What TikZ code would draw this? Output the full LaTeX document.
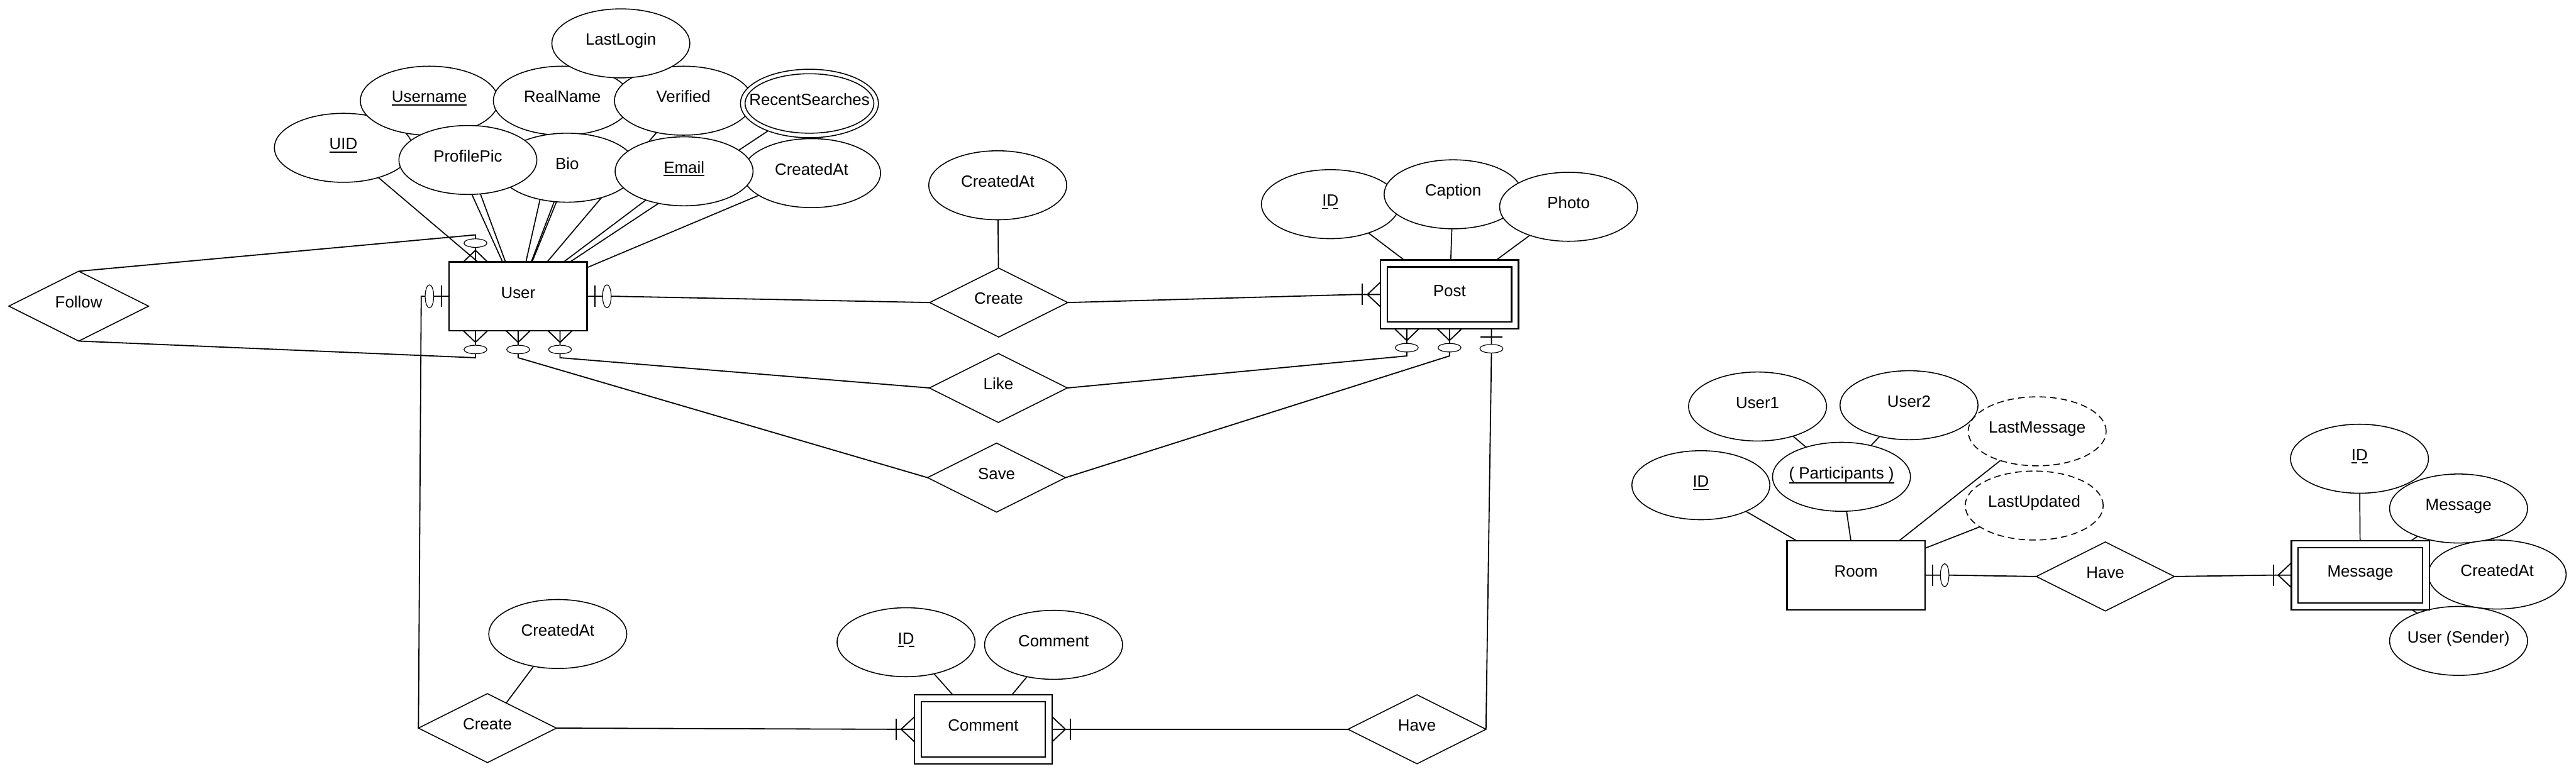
\documentclass[tikz,border=0pt]{standalone}
\usepackage{fontspec}
\setmainfont{Liberation Sans}
\usetikzlibrary{shapes.geometric,calc,backgrounds}
\newcommand\ctext[1]{\makebox[0pt]{#1}}
\newcommand\solidul[1]{\setbox0\hbox{#1}\rlap{\usebox0}\rule[-0.19em]{\wd0}{0.07em}}
\newcommand\partul[1]{\setbox0\hbox{#1}\rlap{\usebox0}\rule[-0.29em]{\wd0}{0.07em}}
\newcommand\dashul[1]{\setbox0\hbox{#1}\rlap{\usebox0}\rlap{\rule[-0.19em]{0.36\wd0}{0.07em}}\kern0.66\wd0\rule[-0.19em]{0.34\wd0}{0.07em}}
\tikzset{
  erbase/.style={draw, fill=white, inner sep=0pt, outer sep=0pt, text height=0.8em, text depth=0.2em},
  attr/.style={erbase, ellipse, line width=0.6mm, minimum width=84mm, minimum height=42mm},
  derived/.style={attr, dash pattern=on 4mm off 2.5mm},
  rel/.style={erbase, diamond, line width=0.6mm, minimum width=84mm, minimum height=42mm},
  ent/.style={erbase, rectangle, line width=0.9mm, minimum width=84mm, minimum height=42mm},
  entin/.style={line width=0.9mm},
  aline/.style={line width=0.65mm},
  rline/.style={line width=0.7mm},
  mk/.style={line width=0.7mm},
  mkc/.style={line width=0.45mm, fill=white},
  zmany/.pic={\draw[mk] (0,7.3) -- (7,0) -- (0,-7.3); \draw[mkc] (11.4,0) ellipse [x radius=2.6mm, y radius=7mm];},
  zone/.pic={\draw[mk] (4.8,6.6) -- (4.8,-6.6); \draw[mkc] (12,0) ellipse [x radius=2.6mm, y radius=7mm];},
  omany/.pic={\draw[mk] (0,7.5) -- (8,0) -- (0,-7.5); \draw[mk] (11,6.5) -- (11,-6.5);},
}
\begin{document}
\begin{tikzpicture}[x=1mm,y=-1mm,font=\fontsize{28.2pt}{34pt}\selectfont]
\useasboundingbox (0,0) rectangle (1568,471);
% ---------- User cluster ----------
\node[attr] (uid) at (209,90) {\ctext{\solidul{UID}}};
\node[attr] (username) at (261.3,61.3) {\ctext{\solidul{Username}}};
\node[attr] (realname) at (342.3,61.3) {\ctext{RealName}};
\node[attr] (verified) at (416,61.3) {\ctext{Verified}};
\node[attr] (lastlogin) at (377.9,26.4) {\ctext{LastLogin}};
\node[attr, minimum height=41.7mm] (recent) at (492.7,63) {\ctext{RecentSearches}};
\draw[line width=0.6mm] (recent.center) ellipse [x radius=39.2mm, y radius=18.1mm];
\node[attr] (bio) at (345.2,102.1) {\ctext{Bio}};
\node[attr] (ucreated) at (494,105.4) {\ctext{CreatedAt}};
\node[attr] (email) at (416.4,104.3) {\ctext{\solidul{Email}}};
\node[attr] (profilepic) at (284.8,97.4) {\ctext{ProfilePic}};
\node[ent] (user) at (315.4,180.4) {\ctext{User}};
\node[rel, minimum width=85mm, minimum height=42.5mm] (follow) at (47.9,186.4) {\ctext{Follow}};
% ---------- Post cluster ----------
\node[attr] (pid) at (809.8,124.3) {\ctext{\dashul{ID}}};
\node[attr] (caption) at (884.5,118.3) {\ctext{Caption}};
\node[attr] (photo) at (954.8,125.9) {\ctext{Photo}};
\node[ent] (post) at (882.3,179.3) {\ctext{Post}};
\draw[entin] ($(post.north west)+(4.2,4.2)$) rectangle ($(post.south east)+(-4.2,-4.2)$);
\node[attr] (pcreated) at (607.3,112.8) {\ctext{CreatedAt}};
\node[rel] (create) at (607.9,184.2) {\ctext{Create}};
\node[rel] (like) at (607.7,236.2) {\ctext{Like}};
\node[rel] (save) at (606.6,290.8) {\ctext{Save}};
% ---------- Comment cluster ----------
\node[attr] (cca) at (339.5,386) {\ctext{CreatedAt}};
\node[rel] (ccreate) at (296.7,443.3) {\ctext{Create}};
\node[attr] (cid) at (551.5,391) {\ctext{\dashul{ID}}};
\node[attr] (ccomment) at (641.3,392.6) {\ctext{Comment}};
\node[ent] (comment) at (598.5,444) {\ctext{Comment}};
\draw[entin] ($(comment.north west)+(4.2,4.2)$) rectangle ($(comment.south east)+(-4.2,-4.2)$);
\node[rel] (chave) at (862.5,444) {\ctext{Have}};
% ---------- Room cluster ----------
\node[attr] (user1) at (1069.8,247.5) {\ctext{User1}};
\node[attr] (user2) at (1162,246.7) {\ctext{User2}};
\node[derived] (lastmsg) at (1240,262.6) {\ctext{LastMessage}};
\node[derived] (lastupd) at (1238.2,307.8) {\ctext{LastUpdated}};
\node[attr] (rid) at (1035.3,295.4) {\ctext{\solidul{ID}}};
\node[attr] (part) at (1120.9,290.3) {\ctext{\partul{( Participants )}}};
\node[ent] (room) at (1129.7,350.2) {\ctext{Room}};
\node[rel] (rhave) at (1281.5,351) {\ctext{Have}};
% ---------- Message cluster ----------
\node[attr] (mmsg) at (1496.5,309.6) {\ctext{Message}};
\node[attr] (mcreated) at (1520,349.8) {\ctext{CreatedAt}};
\node[attr] (msender) at (1496.5,390.2) {\ctext{User (Sender)}};
\node[attr] (mid) at (1436.2,279.3) {\ctext{\dashul{ID}}};
\node[ent] (message) at (1436.7,350.2) {\ctext{Message}};
\draw[entin] ($(message.north west)+(4.2,4.2)$) rectangle ($(message.south east)+(-4.2,-4.2)$);
% ---------- connectors (under the shapes) ----------
\begin{scope}[on background layer]
\fill[white] (0,0) rectangle (1568,471);
\foreach \a in {uid,username,realname,verified,lastlogin,recent,bio,ucreated,email,profilepic}
  \draw[aline] (\a) -- (user);
\foreach \a in {pid,caption,photo} \draw[aline] (\a) -- (post);
\draw[aline] (pcreated) -- (create);
\draw[aline] (cca) -- (ccreate);
\draw[aline] (cid) -- (comment);
\draw[aline] (ccomment) -- (comment);
\draw[aline] (rid) -- (room);
\draw[aline] (part) -- (room);
\draw[aline] (user1) -- (part);
\draw[aline] (user2) -- (part);
\draw[aline] (lastmsg) -- (room);
\draw[aline] (lastupd) -- (room);
\draw[aline] (mid) -- (message);
\draw[aline] (mmsg) -- (message);
\draw[aline] (msender) -- (message);
% relationships
\draw[rline] (follow.north) -- ($(user.north)+(-26,-16.4)$) -- ($(user.north)+(-26,0)$);
\draw[rline] (follow.south) -- ($(user.south)+(-26,16.4)$) -- ($(user.south)+(-26,0)$);
\draw[rline] (save.west) -- ($(user.south)+(0,16.4)$) -- (user.south);
\draw[rline] (like.west) -- ($(user.south)+(25.5,16.4)$) -- ($(user.south)+(25.5,0)$);
\draw[rline] (create.west) -- ($(user.east)+(17,0)$) -- (user.east);
\draw[rline] (ccreate.west) -- ($(user.west)+(-17,0)$) -- (user.west);
\draw[rline] (create.east) -- ($(post.west)+(-15,0)$) -- (post.west);
\draw[rline] (like.east) -- ($(post.south)+(-26,16.4)$) -- ($(post.south)+(-26,0)$);
\draw[rline] (save.east) -- ($(post.south)+(0,16.4)$) -- (post.south);
\draw[rline] (chave.east) -- ($(post.south)+(25.5,16.6)$) -- ($(post.south)+(25.5,0)$);
\draw[rline] (ccreate.east) -- ($(comment.west)+(-15,0)$) -- (comment.west);
\draw[rline] (chave.west) -- ($(comment.east)+(15,0)$) -- (comment.east);
\draw[rline] (rhave.west) -- ($(room.east)+(17,0)$) -- (room.east);
\draw[rline] (rhave.east) -- ($(message.west)+(-15,0)$) -- (message.west);
\end{scope}
% ---------- cardinality markers ----------
\pic[rotate=90] at ($(user.north)+(-26,0)$) {zmany};
\pic[rotate=-90] at ($(user.south)+(-26,0)$) {zmany};
\pic[rotate=-90] at (user.south) {zmany};
\pic[rotate=-90] at ($(user.south)+(25.5,0)$) {zmany};
\pic at (user.east) {zone};
\pic[rotate=180] at (user.west) {zone};
\pic[rotate=180] at (post.west) {omany};
\pic[rotate=-90] at ($(post.south)+(-26,0)$) {zmany};
\pic[rotate=-90] at (post.south) {zmany};
\pic[rotate=-90] at ($(post.south)+(25.5,0)$) {zone};
\pic[rotate=180] at (comment.west) {omany};
\pic at (comment.east) {omany};
\pic at (room.east) {zone};
\pic[rotate=180] at (message.west) {omany};
\end{tikzpicture}
\end{document}
